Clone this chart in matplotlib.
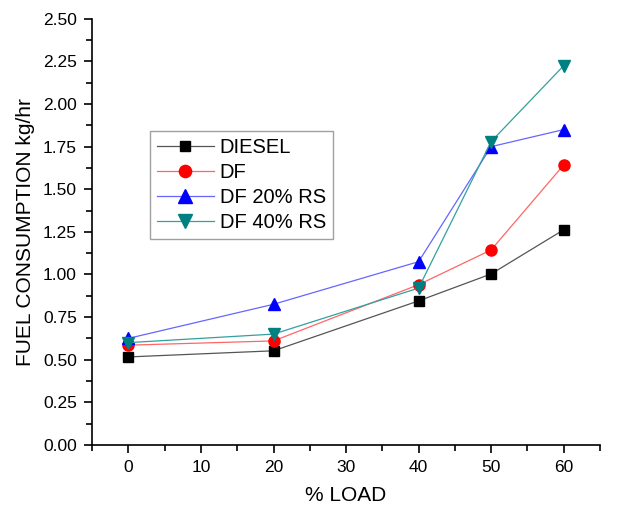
import matplotlib
matplotlib.use("Agg")
import matplotlib.pyplot as plt
from matplotlib.ticker import MultipleLocator

plt.rcParams['font.family'] = ['Liberation Sans', 'DejaVu Sans']

load = [0, 20, 40, 50, 60]
diesel = [0.516, 0.552, 0.845, 1.003, 1.262]
df = [0.585, 0.610, 0.940, 1.144, 1.643]
df20 = [0.625, 0.825, 1.075, 1.750, 1.850]
df40 = [0.600, 0.650, 0.920, 1.780, 2.225]

fig = plt.figure(figsize=(6.23, 5.09), dpi=100)
ax = fig.add_axes([0.148, 0.126, 0.815, 0.837])

ax.plot(load, diesel, color='#555555', lw=0.9, marker='s', ms=7, mfc='black', mec='black', label='DIESEL')
ax.plot(load, df, color='#ff6666', lw=0.9, marker='o', ms=8, mfc='red', mec='red', label='DF')
ax.plot(load, df20, color='#6666ff', lw=0.9, marker='^', ms=9, mfc='blue', mec='blue', label='DF 20% RS')
ax.plot(load, df40, color='#33a0a0', lw=0.9, marker='v', ms=9, mfc='#008080', mec='#008080', label='DF 40% RS')

ax.set_xlim(-5, 65)
ax.set_ylim(0, 2.5)
ax.xaxis.set_major_locator(MultipleLocator(10))
ax.xaxis.set_minor_locator(MultipleLocator(5))
ax.yaxis.set_major_locator(MultipleLocator(0.25))
ax.yaxis.set_minor_locator(MultipleLocator(0.125))
ax.yaxis.set_major_formatter(matplotlib.ticker.FormatStrFormatter('%.2f'))
ax.spines['top'].set_visible(False)
ax.spines['right'].set_visible(False)
for s in ('left', 'bottom'):
    ax.spines[s].set_linewidth(1.2)
ax.tick_params(which='major', direction='out', length=6, width=1.2, labelsize=12.5, pad=5)
ax.tick_params(which='minor', direction='out', length=4, width=1.2)

ax.set_xlabel('% LOAD', fontsize=15, labelpad=8)
ax.set_ylabel('FUEL CONSUMPTION kg/hr', fontsize=15, labelpad=6)

leg = ax.legend(loc='upper left', bbox_to_anchor=(0.114, 0.737), fontsize=14.5,
                frameon=True, fancybox=False, edgecolor='#888888', borderpad=0.35,
                handlelength=2.8, labelspacing=0.3, handletextpad=0.3, borderaxespad=0,
                markerscale=1.1)
leg.get_frame().set_linewidth(1.0)

fig.savefig('out.png', dpi=100)
